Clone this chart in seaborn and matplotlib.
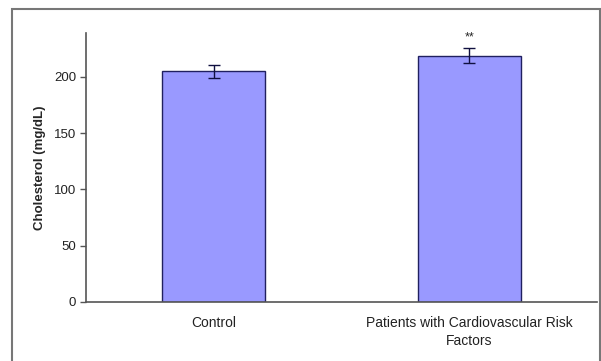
import pandas as pd
import numpy as np
import matplotlib
matplotlib.use('Agg')
import matplotlib.pyplot as plt
import seaborn as sns
from matplotlib.patches import Rectangle

# Cholesterol means and error (mg/dL)
groups = ['Control', 'Patients with Cardiovascular Risk\nFactors']
means = [205, 219]
errors = [6, 7]
marks = ['', '**']

df = pd.DataFrame({'group': groups, 'chol': means})

sns.set_style('white')
plt.rcParams['font.family'] = ['Liberation Sans', 'DejaVu Sans']

fig = plt.figure(figsize=(6.01, 3.61), dpi=100)
ax = fig.add_axes([86 / 601, 1 - 302 / 361, 511 / 601, 269 / 361])

sns.barplot(data=df, x='group', y='chol', color='#9999ff', saturation=1,
            width=0.405, edgecolor='#202060', linewidth=1, ax=ax)
ax.errorbar(range(len(groups)), means, yerr=errors, fmt='none',
            ecolor='#101040', elinewidth=1, capsize=4, capthick=1)
for i, m in enumerate(marks):
    if m:
        ax.text(i, means[i] + errors[i] + 4, m, ha='center', va='bottom', fontsize=9)

ax.set_ylim(0, 239)
ax.set_xlim(-0.5, 1.5)
ax.set_yticks([0, 50, 100, 150, 200])
ax.set_ylabel('Cholesterol (mg/dL)', fontsize=9.5, fontweight='bold', labelpad=6)
ax.set_xlabel('')

for side in ['top', 'right']:
    ax.spines[side].set_visible(False)
for side in ['left', 'bottom']:
    ax.spines[side].set_color('#555555')
    ax.spines[side].set_linewidth(1.2)

ax.tick_params(axis='y', direction='out', length=4, width=1, color='#555555',
               labelsize=9.5, labelcolor='#222222', left=True, pad=3)
ax.tick_params(axis='x', length=0, labelsize=10, labelcolor='#222222', pad=10)
for lbl in ax.get_xticklabels():
    lbl.set_linespacing(1.35)
ax.set_xticks([0.5], minor=True)
ax.tick_params(axis='x', which='minor', direction='out', length=3, width=1, color='#555555')

# outer chart frame, as in the original spreadsheet export
fig.patches.append(Rectangle((12 / 601, -0.05), 588 / 601, 1.05 - 9 / 361,
                             transform=fig.transFigure, fill=False,
                             edgecolor='#777777', linewidth=1.5))

fig.savefig('out.png', dpi=100)
